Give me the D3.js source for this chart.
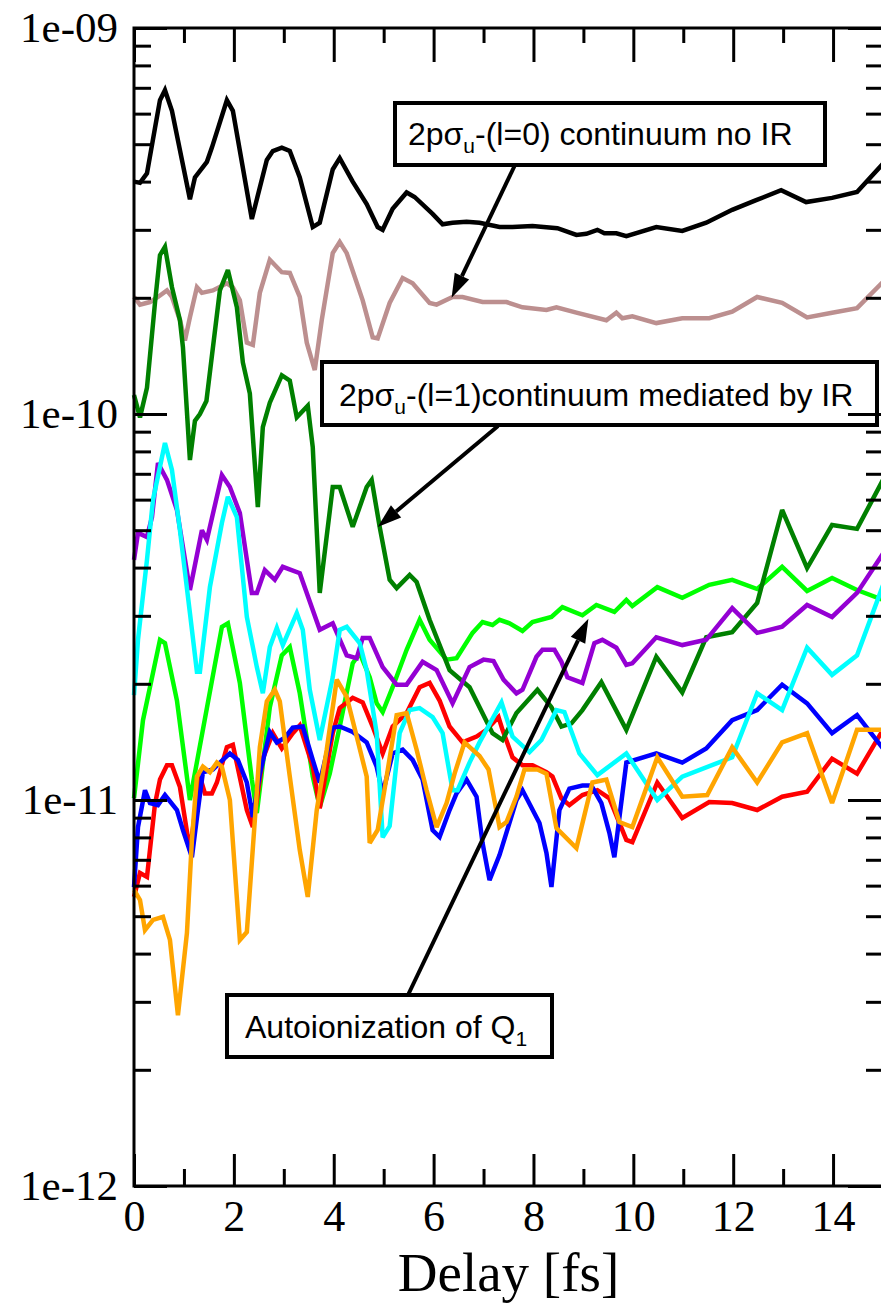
<!DOCTYPE html>
<html>
<head>
<meta charset="utf-8">
<script src="https://cdn.jsdelivr.net/npm/d3@7"></script>
<style>
  body { margin: 0; background: #fff; }
  svg { display: block; }
</style>
</head>
<body>
<svg id="chart" width="881" height="1304"></svg>
<script>
// Delay axis (fs) and probability axis (log scale)
const delayMajorTicks = [0, 2, 4, 6, 8, 10, 12, 14];
const delayMinorTicks = [1, 3, 5, 7, 9, 11, 13, 15];
const probMajorTicks = [1e-12, 1e-11, 1e-10, 1e-9];
const probTickLabels = ["1e-12", "1e-11", "1e-10", "1e-09"];
const axisTitle = "Delay [fs]";

// Each series: [delay (fs), probability]
const noIRContinuum = [[0,4.0e-10],[0.12,3.97e-10],[0.26,4.2e-10],[0.42,5.5e-10],[0.52,6.5e-10],[0.62,6.9e-10],[0.76,6.1e-10],[1.12,3.6e-10],[1.22,4.1e-10],[1.46,4.5e-10],[1.56,4.9e-10],[1.86,6.5e-10],[1.98,6.1e-10],[2.36,3.2e-10],[2.66,4.55e-10],[2.78,4.8e-10],[2.96,4.9e-10],[3.12,4.8e-10],[3.32,4.1e-10],[3.58,3.05e-10],[3.72,3.13e-10],[3.98,4.3e-10],[4.12,4.6e-10],[4.38,4.0e-10],[4.66,3.5e-10],[4.88,3.05e-10],[4.98,3.0e-10],[5.18,3.4e-10],[5.46,3.75e-10],[5.62,3.65e-10],[5.98,3.3e-10],[6.18,3.1e-10],[6.38,3.13e-10],[6.66,3.15e-10],[6.92,3.13e-10],[7.32,3.05e-10],[7.58,3.05e-10],[7.98,3.07e-10],[8.48,3.03e-10],[8.86,2.91e-10],[9.06,2.93e-10],[9.28,3.0e-10],[9.42,2.94e-10],[9.66,2.94e-10],[9.86,2.89e-10],[10.46,3.05e-10],[10.98,2.98e-10],[11.46,3.13e-10],[11.98,3.38e-10],[12.46,3.58e-10],[12.96,3.8e-10],[13.46,3.54e-10],[13.98,3.63e-10],[14.48,3.76e-10],[15,4.45e-10]];

const noIRBrown = [[0,2.01e-10],[0.12,1.92e-10],[0.32,1.95e-10],[0.48,2.01e-10],[0.66,2.09e-10],[0.76,2.01e-10],[0.92,1.75e-10],[1.02,1.55e-10],[1.12,1.78e-10],[1.26,2.13e-10],[1.36,2.06e-10],[1.58,2.09e-10],[1.86,2.18e-10],[1.98,2.13e-10],[2.12,1.97e-10],[2.26,1.53e-10],[2.38,1.51e-10],[2.52,2.06e-10],[2.72,2.51e-10],[2.96,2.33e-10],[3.12,2.32e-10],[3.32,2.01e-10],[3.46,1.53e-10],[3.62,1.30e-10],[3.76,1.75e-10],[3.98,2.61e-10],[4.12,2.79e-10],[4.26,2.61e-10],[4.58,1.97e-10],[4.78,1.58e-10],[4.88,1.57e-10],[5.12,1.94e-10],[5.38,2.25e-10],[5.58,2.18e-10],[5.92,1.94e-10],[6.06,1.92e-10],[6.38,2.01e-10],[6.58,2.01e-10],[6.98,1.95e-10],[7.46,1.95e-10],[7.78,1.89e-10],[8.26,1.86e-10],[8.46,1.89e-10],[8.86,1.83e-10],[9.46,1.75e-10],[9.66,1.83e-10],[9.78,1.77e-10],[9.98,1.79e-10],[10.46,1.72e-10],[10.98,1.77e-10],[11.52,1.77e-10],[11.98,1.84e-10],[12.48,2.01e-10],[12.98,1.94e-10],[13.48,1.78e-10],[13.98,1.83e-10],[14.48,1.88e-10],[15,2.2e-10]];

const irMediated = [[0,1.12e-10],[0.12,9.8e-11],[0.26,1.17e-10],[0.42,1.94e-10],[0.52,2.58e-10],[0.62,2.71e-10],[0.76,2.13e-10],[0.92,1.75e-10],[0.98,1.49e-10],[1.12,7.6e-11],[1.22,9.6e-11],[1.32,1.0e-10],[1.45,1.08e-10],[1.72,2.09e-10],[1.88,2.36e-10],[2.06,1.89e-10],[2.18,1.36e-10],[2.32,1.13e-10],[2.48,5.74e-11],[2.58,9.25e-11],[2.72,1.07e-10],[2.96,1.26e-10],[3.12,1.22e-10],[3.26,9.8e-11],[3.48,1.05e-10],[3.58,8.2e-11],[3.72,3.44e-11],[3.98,6.47e-11],[4.12,6.47e-11],[4.38,5.1e-11],[4.66,6.47e-11],[4.76,6.75e-11],[4.92,5.1e-11],[5.12,3.72e-11],[5.26,3.54e-11],[5.52,3.83e-11],[5.66,3.67e-11],[5.92,2.93e-11],[6.32,2.17e-11],[6.72,1.96e-11],[7.18,1.49e-11],[7.38,1.43e-11],[7.66,1.68e-11],[8.08,1.93e-11],[8.36,1.74e-11],[8.56,1.55e-11],[8.76,1.58e-11],[8.98,1.71e-11],[9.36,2.02e-11],[9.86,1.52e-11],[10.46,2.35e-11],[10.98,1.90e-11],[11.46,2.64e-11],[11.98,2.72e-11],[12.48,3.24e-11],[12.98,5.64e-11],[13.48,3.99e-11],[13.98,5.16e-11],[14.48,5.04e-11],[15,6.75e-11]];

const violetSeries = [[0,4.19e-11],[0.08,4.92e-11],[0.26,4.8e-11],[0.36,5.41e-11],[0.48,7.46e-11],[0.66,6.75e-11],[0.86,5.64e-11],[1.12,3.5e-11],[1.36,5.0e-11],[1.46,4.72e-11],[1.76,6.95e-11],[1.92,6.47e-11],[2.12,5.54e-11],[2.36,3.44e-11],[2.46,3.44e-11],[2.62,3.94e-11],[2.82,3.72e-11],[2.98,4.02e-11],[3.32,3.87e-11],[3.72,2.76e-11],[3.98,2.87e-11],[4.26,2.37e-11],[4.46,2.33e-11],[4.58,2.63e-11],[4.72,2.63e-11],[4.98,2.21e-11],[5.26,1.99e-11],[5.46,1.99e-11],[5.78,2.28e-11],[6.06,2.17e-11],[6.38,1.78e-11],[6.72,2.21e-11],[7.0,2.31e-11],[7.2,2.29e-11],[7.4,2.05e-11],[7.66,1.89e-11],[7.78,1.93e-11],[8.06,2.35e-11],[8.18,2.45e-11],[8.42,2.45e-11],[8.56,2.28e-11],[8.68,2.08e-11],[8.98,2.01e-11],[9.22,2.55e-11],[9.38,2.6e-11],[9.66,2.48e-11],[9.86,2.24e-11],[9.98,2.26e-11],[10.46,2.64e-11],[10.98,2.52e-11],[11.46,2.6e-11],[11.98,3.14e-11],[12.48,2.71e-11],[12.98,2.81e-11],[13.48,3.2e-11],[13.98,2.98e-11],[14.48,3.44e-11],[15,4.35e-11]];

const cyanSeries = [[0,1.87e-11],[0.08,2.6e-11],[0.26,4.19e-11],[0.38,5.99e-11],[0.62,8.41e-11],[0.76,7.16e-11],[0.92,5.0e-11],[1.12,3.05e-11],[1.26,2.15e-11],[1.32,2.15e-11],[1.52,3.56e-11],[1.76,5.22e-11],[1.88,6.1e-11],[2.06,5.41e-11],[2.26,2.98e-11],[2.46,2.21e-11],[2.58,1.89e-11],[2.72,2.49e-11],[2.86,2.79e-11],[2.98,2.52e-11],[3.26,3.05e-11],[3.38,2.76e-11],[3.52,1.93e-11],[3.72,1.43e-11],[3.98,2.08e-11],[4.12,2.76e-11],[4.26,2.81e-11],[4.52,2.55e-11],[4.66,2.17e-11],[4.86,1.49e-11],[4.98,8.0e-12],[5.12,8.56e-12],[5.32,1.49e-11],[5.52,1.71e-11],[5.72,1.73e-11],[5.98,1.64e-11],[6.18,1.49e-11],[6.38,1.06e-11],[6.48,1.06e-11],[6.72,1.25e-11],[6.92,1.41e-11],[7.36,1.79e-11],[7.58,1.46e-11],[7.92,1.33e-11],[8.16,1.43e-11],[8.46,1.71e-11],[8.62,1.69e-11],[8.92,1.32e-11],[9.28,1.16e-11],[9.86,1.32e-11],[10.48,1.0e-11],[10.98,1.15e-11],[11.98,1.29e-11],[12.48,1.89e-11],[12.98,1.71e-11],[13.48,2.48e-11],[13.98,2.11e-11],[14.48,2.37e-11],[15,3.6e-11]];

const q1Autoionization = [[0,1.01e-11],[0.18,1.61e-11],[0.52,2.6e-11],[0.62,2.55e-11],[0.86,1.81e-11],[1.12,1.0e-11],[1.76,2.81e-11],[1.88,2.87e-11],[2.12,2.01e-11],[2.36,1.13e-11],[2.46,9.25e-12],[2.72,1.74e-11],[2.96,2.37e-11],[3.12,2.49e-11],[3.32,1.89e-11],[3.58,1.15e-11],[3.72,9.59e-12],[3.92,1.17e-11],[4.12,1.55e-11],[4.38,2.26e-11],[4.52,2.4e-11],[4.72,2.08e-11],[4.86,1.78e-11],[4.98,1.69e-11],[5.18,1.96e-11],[5.46,2.45e-11],[5.72,2.93e-11],[5.92,2.6e-11],[6.26,2.31e-11],[6.46,2.33e-11],[6.78,2.71e-11],[6.98,2.89e-11],[7.18,2.84e-11],[7.32,2.93e-11],[7.52,2.87e-11],[7.78,2.74e-11],[7.98,2.89e-11],[8.36,2.98e-11],[8.58,3.16e-11],[8.98,3.01e-11],[9.26,3.2e-11],[9.62,3.07e-11],[9.86,3.3e-11],[9.98,3.18e-11],[10.48,3.56e-11],[10.98,3.34e-11],[11.52,3.61e-11],[11.98,3.72e-11],[12.48,3.52e-11],[12.98,4.02e-11],[13.48,3.48e-11],[13.98,3.76e-11],[14.48,3.5e-11],[15,3.3e-11]];

const redSeries = [[0,5.61e-12],[0.12,6.47e-12],[0.26,6.32e-12],[0.42,9.76e-12],[0.52,1.13e-11],[0.66,1.23e-11],[0.76,1.23e-11],[0.92,1.08e-11],[1.12,7.4e-12],[1.32,1.15e-11],[1.42,1.04e-11],[1.56,1.04e-11],[1.66,1.11e-11],[1.86,1.37e-11],[1.98,1.39e-11],[2.26,9.42e-12],[2.38,8.51e-12],[2.58,1.28e-11],[2.78,1.49e-11],[2.96,1.36e-11],[3.18,1.49e-11],[3.32,1.56e-11],[3.58,1.22e-11],[3.72,9.52e-12],[3.98,1.49e-11],[4.12,1.73e-11],[4.38,1.84e-11],[4.58,1.79e-11],[4.78,1.55e-11],[4.98,1.32e-11],[5.18,1.55e-11],[5.46,1.68e-11],[5.72,1.96e-11],[5.92,2.01e-11],[6.12,1.81e-11],[6.32,1.55e-11],[6.58,1.41e-11],[6.86,1.46e-11],[7.06,1.52e-11],[7.3,1.64e-11],[7.38,1.52e-11],[7.58,1.29e-11],[7.78,1.23e-11],[7.98,1.23e-11],[8.26,1.18e-11],[8.38,1.15e-11],[8.56,1.01e-11],[8.72,9.7e-12],[8.98,1.03e-11],[9.28,1.06e-11],[9.52,1.01e-11],[9.86,7.88e-12],[9.98,7.78e-12],[10.48,1.11e-11],[10.98,8.98e-12],[11.52,9.88e-12],[11.98,9.82e-12],[12.48,9.42e-12],[12.98,1.02e-11],[13.48,1.05e-11],[13.98,1.28e-11],[14.48,1.17e-11],[15,1.52e-11]];

const blueSeries = [[0,5.95e-12],[0.08,8.51e-12],[0.22,1.06e-11],[0.32,9.82e-12],[0.48,9.7e-12],[0.62,1.03e-11],[0.86,9.42e-12],[0.98,8.36e-12],[1.16,7.11e-12],[1.28,9.42e-12],[1.38,1.18e-11],[1.58,1.2e-11],[1.72,1.25e-11],[1.92,1.32e-11],[2.08,1.27e-11],[2.26,1.11e-11],[2.38,9.03e-12],[2.52,1.17e-11],[2.72,1.5e-11],[2.86,1.41e-11],[3.02,1.45e-11],[3.18,1.54e-11],[3.38,1.55e-11],[3.58,1.27e-11],[3.72,1.11e-11],[3.98,1.54e-11],[4.12,1.55e-11],[4.38,1.5e-11],[4.66,1.41e-11],[4.86,1.22e-11],[4.98,1.04e-11],[5.18,1.32e-11],[5.38,1.35e-11],[5.58,1.27e-11],[5.78,1.13e-11],[5.98,8.36e-12],[6.12,8.02e-12],[6.32,9.42e-12],[6.46,1.04e-11],[6.66,1.13e-11],[6.86,1.02e-11],[6.98,7.74e-12],[7.12,6.2e-12],[7.32,7.2e-12],[7.66,1.0e-11],[7.78,1.06e-11],[8.12,8.72e-12],[8.26,7.29e-12],[8.36,5.95e-12],[8.52,9.42e-12],[8.72,1.07e-11],[8.98,1.09e-11],[9.16,1.09e-11],[9.36,9.82e-12],[9.52,8.22e-12],[9.62,7.11e-12],[9.86,1.25e-11],[10.46,1.32e-11],[10.98,1.25e-11],[11.46,1.36e-11],[11.98,1.61e-11],[12.48,1.71e-11],[12.98,1.99e-11],[13.48,1.78e-11],[13.98,1.49e-11],[14.48,1.66e-11],[15,1.36e-11]];

const orangeSeries = [[0,5.85e-12],[0.12,5.51e-12],[0.22,4.6e-12],[0.38,4.89e-12],[0.58,4.98e-12],[0.72,4.34e-12],[0.88,2.77e-12],[1.06,4.52e-12],[1.16,7.88e-12],[1.26,1.15e-11],[1.38,1.22e-11],[1.52,1.18e-11],[1.66,1.25e-11],[1.76,1.22e-11],[1.92,1.0e-11],[2.12,4.34e-12],[2.26,4.55e-12],[2.42,8.87e-12],[2.52,1.37e-11],[2.66,1.8e-11],[2.82,1.93e-11],[2.92,1.8e-11],[3.12,1.15e-11],[3.32,7.41e-12],[3.48,5.61e-12],[3.66,9.42e-12],[3.86,1.35e-11],[4.06,2.05e-11],[4.26,1.85e-11],[4.46,1.46e-11],[4.66,1.15e-11],[4.72,7.74e-12],[4.88,8.36e-12],[5.06,1.15e-11],[5.26,1.66e-11],[5.46,1.68e-11],[5.66,1.35e-11],[5.86,1.06e-11],[6.06,8.51e-12],[6.26,9.82e-12],[6.42,1.17e-11],[6.62,1.41e-11],[6.92,1.3e-11],[7.1,1.2e-11],[7.32,8.51e-12],[7.46,8.77e-12],[7.66,1.02e-11],[7.82,1.2e-11],[8.08,1.2e-11],[8.26,1.17e-11],[8.46,8.46e-12],[8.86,7.51e-12],[9.18,1.11e-11],[9.46,1.13e-11],[9.72,8.77e-12],[9.98,8.51e-12],[10.48,1.29e-11],[10.98,1.02e-11],[11.48,1.03e-11],[11.98,1.37e-11],[12.48,1.11e-11],[12.98,1.41e-11],[13.48,1.49e-11],[13.98,9.82e-12],[14.48,1.52e-11],[15,1.52e-11]];

const seriesList = [
  { points: noIRContinuum,    color: "#000000" },
  { points: noIRBrown,        color: "#bc8f8f" },
  { points: q1Autoionization, color: "#00ff00" },
  { points: redSeries,        color: "#ff0000" },
  { points: blueSeries,       color: "#0000ff" },
  { points: irMediated,       color: "#008000" },
  { points: violetSeries,     color: "#9400d3" },
  { points: cyanSeries,       color: "#00ffff" },
  { points: orangeSeries,     color: "#ffa500" }
];

// Labelled callouts: box in page pixels, arrow tip in data units
const callouts = [
  { box: [395, 103, 430, 62], textX: 408, baseline: 145,
    parts: [["2pσ", false], ["u", true], ["-(l=0) continuum no IR", false]],
    from: [515, 165], tip: [6.36, 2.0e-10] },
  { box: [322, 362, 555, 63], textX: 339, baseline: 406,
    parts: [["2pσ", false], ["u", true], ["-(l=1)continuum mediated by IR", false]],
    from: [498, 426], tip: [4.88, 5.1e-11] },
  { box: [227, 995, 325, 62], textX: 245, baseline: 1038,
    parts: [["Autoionization of Q", false], ["1", true]],
    from: [408, 995], tip: [9.1, 2.95e-11] }
];

const plot = { left: 134, right: 883, top: 28, bottom: 1186 };

const svg = d3.select("#chart");
const x = d3.scaleLinear().domain([0, 15]).range([plot.left, plot.right]);
const y = d3.scaleLog().domain([1e-12, 1e-9]).range([plot.bottom, plot.top]);

// Minor ticks on the log axis: 2..9 within each decade
const probMinorTicks = [];
[1e-12, 1e-11, 1e-10].forEach(d => { for (let m = 2; m <= 9; m++) probMinorTicks.push(m * d); });

// Data curves
const line = d3.line().x(d => x(d[0])).y(d => y(d[1]));
svg.append("g").selectAll("path").data(seriesList).join("path")
  .attr("d", d => line(d.points))
  .attr("fill", "none")
  .attr("stroke", d => d.color)
  .attr("stroke-width", 4.5)
  .attr("stroke-linejoin", "miter")
  .attr("stroke-miterlimit", 3);

// Callout boxes, text and arrows
const cg = svg.append("g");
callouts.forEach(c => {
  cg.append("rect")
    .attr("x", c.box[0]).attr("y", c.box[1])
    .attr("width", c.box[2]).attr("height", c.box[3])
    .attr("fill", "#fff").attr("stroke", "#000").attr("stroke-width", 4);
  const t = cg.append("text")
    .attr("x", c.textX).attr("y", c.baseline)
    .attr("font-family", "'Liberation Sans', Arial, sans-serif")
    .attr("font-size", 32).attr("fill", "#000");
  let shifted = false;
  c.parts.forEach(([s, sub]) => {
    const ts = t.append("tspan").text(s);
    if (sub) { ts.attr("font-size", 21).attr("dy", 8); shifted = true; }
    else if (shifted) { ts.attr("dy", -8); shifted = false; }
  });
  const tx = x(c.tip[0]), ty = y(c.tip[1]);
  const [fx, fy] = c.from;
  const ang = Math.atan2(ty - fy, tx - fx);
  const headLen = 24, headHalf = 8;
  const bx = tx - headLen * Math.cos(ang), by = ty - headLen * Math.sin(ang);
  cg.append("line")
    .attr("x1", fx).attr("y1", fy).attr("x2", bx).attr("y2", by)
    .attr("stroke", "#000").attr("stroke-width", 4);
  const px = -Math.sin(ang), py = Math.cos(ang);
  cg.append("polygon")
    .attr("points", [[tx, ty], [bx + headHalf * px, by + headHalf * py], [bx - headHalf * px, by - headHalf * py]].map(p => p.join(",")).join(" "))
    .attr("fill", "#000");
});

// Axes: ticks point inward on all four sides
const tickStyle = g => {
  g.select(".domain").remove();
  g.selectAll(".tick line").attr("stroke", "#000").attr("stroke-width", 3);
};
const serif = "'Liberation Serif', 'Times New Roman', serif";

svg.append("g").attr("transform", `translate(0,${plot.bottom})`)
  .call(d3.axisBottom(x).tickValues(delayMajorTicks).tickSize(-32).tickPadding(14).tickFormat(d3.format("d")))
  .call(tickStyle)
  .call(g => g.selectAll("text").attr("font-family", serif).attr("font-size", 44).attr("fill", "#000"));
svg.append("g").attr("transform", `translate(0,${plot.bottom})`)
  .call(d3.axisBottom(x).tickValues(delayMinorTicks).tickSize(-17).tickFormat(""))
  .call(tickStyle);

svg.append("g").attr("transform", `translate(0,${plot.top})`)
  .call(d3.axisTop(x).tickValues(delayMajorTicks).tickSize(-34).tickFormat(""))
  .call(tickStyle);
svg.append("g").attr("transform", `translate(0,${plot.top})`)
  .call(d3.axisTop(x).tickValues(delayMinorTicks).tickSize(-15).tickFormat(""))
  .call(tickStyle);

svg.append("g").attr("transform", `translate(${plot.left},0)`)
  .call(d3.axisLeft(y).tickValues(probMajorTicks).tickSize(-33).tickPadding(16)
    .tickFormat((d, i) => probTickLabels[i]))
  .call(tickStyle)
  .call(g => g.selectAll("text").attr("font-family", serif).attr("font-size", 43).attr("fill", "#000"));
svg.append("g").attr("transform", `translate(${plot.left},0)`)
  .call(d3.axisLeft(y).tickValues(probMinorTicks).tickSize(-17).tickFormat(""))
  .call(tickStyle);

svg.append("g").attr("transform", `translate(${plot.right},0)`)
  .call(d3.axisRight(y).tickValues(probMajorTicks).tickSize(-35).tickFormat(""))
  .call(tickStyle);
svg.append("g").attr("transform", `translate(${plot.right},0)`)
  .call(d3.axisRight(y).tickValues(probMinorTicks).tickSize(-17).tickFormat(""))
  .call(tickStyle);

// Frame
svg.append("rect")
  .attr("x", plot.left).attr("y", plot.top)
  .attr("width", plot.right - plot.left).attr("height", plot.bottom - plot.top)
  .attr("fill", "none").attr("stroke", "#000").attr("stroke-width", 3);

// Axis title
svg.append("text")
  .attr("x", (plot.left + plot.right) / 2).attr("y", 1291)
  .attr("text-anchor", "middle")
  .attr("font-family", serif).attr("font-size", 55).attr("fill", "#000")
  .text(axisTitle);
</script>
</body>
</html>
